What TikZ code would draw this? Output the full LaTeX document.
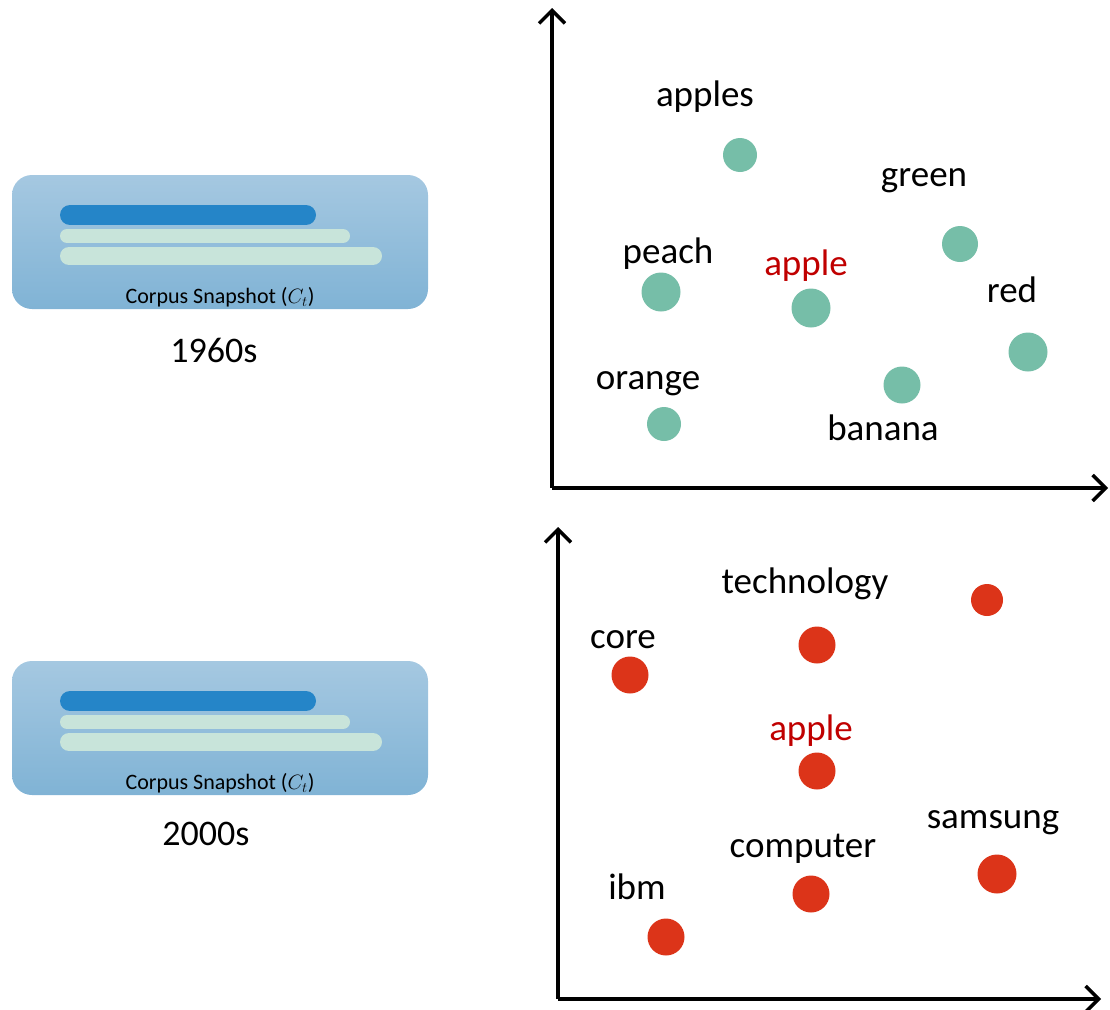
\documentclass[tikz,border=0pt]{standalone}
\usepackage{fontspec}
\setmainfont{Carlito}
\usetikzlibrary{arrows.meta}
\definecolor{dotgreen}{HTML}{76BEA8}
\definecolor{dotred}{HTML}{DC3419}
\definecolor{wordred}{HTML}{C00000}
\definecolor{boxtop}{HTML}{A5C8E1}
\definecolor{boxbot}{HTML}{80B3D5}
\definecolor{bardark}{HTML}{2585C8}
\definecolor{barlight}{HTML}{C8E4DA}
\tikzset{
  word/.style={font=\fontsize{37}{42}\selectfont, inner sep=0pt, yshift=-4pt},
  keyword/.style={word, text=wordred},
  gdot/.style={circle, fill=dotgreen, inner sep=0pt, minimum size=38pt},
  rdot/.style={circle, fill=dotred, inner sep=0pt, minimum size=38pt},
  axis/.style={line width=3.5pt, -{Straight Barb[length=13pt,width=26pt,line width=3.5pt]}},
  bar/.style={line cap=round},
  caption/.style={font=\fontsize{22}{24}\selectfont, inner sep=0pt},
  era/.style={font=\fontsize{36}{40}\selectfont, inner sep=0pt}
}
\newcommand{\snapshotbox}[2]{%
  \begin{scope}[yshift=#1]
    \shade[top color=boxtop, bottom color=boxbot, rounded corners=20pt]
      (12,175) rectangle (428,309);
    \draw[bar, bardark, line width=20pt] (70,215) -- (306,215);
    \draw[bar, barlight, line width=14pt] (67,236) -- (343,236);
    \draw[bar, barlight, line width=18pt] (69,256) -- (373,256);
    \node[caption] (cap#2) at (220,297) {Corpus Snapshot ($C_t$)};
  \end{scope}}
\begin{document}
\begin{tikzpicture}[x=1pt, y=-1pt]
\useasboundingbox (0,0) rectangle (1110,1009);

% corpus snapshots
\snapshotbox{0pt}{a}
\node[era] (eraA) at (214,350) {1960s};
\snapshotbox{-486pt}{b}
\node[era] (eraB) at (206,834) {2000s};

% upper embedding space
\coordinate (oA) at (552,488);
\coordinate (yA) at (552,8);
\coordinate (xA) at (1108,488);
\draw[axis] (oA) -- (yA);
\draw[axis] (oA) -- (xA);

\node[gdot, minimum size=34pt] (apples) at (740,155) {};
\node[word] at (705,93) {apples};
\node[gdot, minimum size=36pt] (green) at (960,244) {};
\node[word] at (924,177) {green};
\node[gdot, minimum size=39pt] (peach) at (661,292) {};
\node[word] at (668,250) {peach};
\node[gdot, minimum size=39pt] (appleA) at (811,308) {};
\node[keyword] at (806,262) {apple};
\node[gdot, minimum size=39pt] (red) at (1028,352) {};
\node[word] at (1012,286) {red};
\node[gdot, minimum size=34pt] (orange) at (664,424) {};
\node[word] at (648,380) {orange};
\node[gdot, minimum size=37pt] (banana) at (902,385) {};
\node[word] at (883,424) {banana};

% lower embedding space
\coordinate (oB) at (558,999);
\coordinate (yB) at (558,527);
\coordinate (xB) at (1101,999);
\draw[axis] (oB) -- (yB);
\draw[axis] (oB) -- (xB);

\node[rdot, minimum size=32pt] (unnamed) at (987,600) {};
\node[rdot, minimum size=37pt] (technology) at (817,645) {};
\node[word] at (805,580) {technology};
\node[rdot, minimum size=37pt] (core) at (630,675) {};
\node[word] at (623,636) {core};
\node[rdot, minimum size=37pt] (appleB) at (817,771) {};
\node[keyword] at (811,727) {apple};
\node[rdot, minimum size=39pt] (samsung) at (997,874) {};
\node[word] at (993,819) {samsung};
\node[rdot, minimum size=37pt] (computer) at (811,894) {};
\node[word] at (803,845) {computer};
\node[rdot, minimum size=37pt] (ibm) at (666,937) {};
\node[word] at (637,883) {ibm};
\end{tikzpicture}
\end{document}
